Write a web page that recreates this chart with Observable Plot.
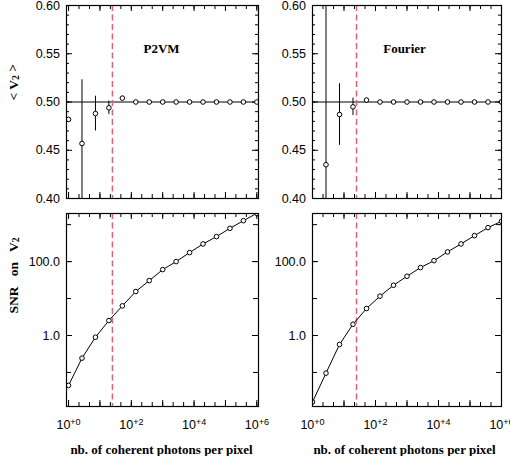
<!DOCTYPE html>
<html>
<head>
<meta charset="utf-8">
<script src="https://cdn.jsdelivr.net/npm/d3@7"></script>
<script src="https://cdn.jsdelivr.net/npm/@observablehq/plot@0.6"></script>
<style>
  body { margin: 0; background: #fff; }
  #fig { position: relative; width: 510px; height: 456px; overflow: hidden; background: #fff; }
  #fig svg { position: absolute; }
</style>
</head>
<body>
<div id="fig"></div>
<script>
// Number of coherent photons per pixel (shared abscissa of every panel)
const photons = [1, 2.68, 7.2, 19.3, 51.8, 139, 373, 1000, 2680, 7200, 19300, 51800, 139000, 373000, 1000000];

// Mean squared visibility and its error bar, P2VM estimator
const p2vmMean = [0.482, 0.457, 0.488, 0.494, 0.504, 0.500, 0.500, 0.500, 0.500, 0.500, 0.500, 0.500, 0.500, 0.500, 0.500];
const p2vmErr  = [0, 0.066, 0.018, 0.007, 0.002, 0, 0, 0, 0, 0, 0, 0, 0, 0, 0];

// Mean squared visibility and its error bar, Fourier estimator (first value off scale)
const fourierMean = [null, 0.435, 0.487, 0.495, 0.502, 0.500, 0.500, 0.500, 0.500, 0.500, 0.500, 0.500, 0.500, 0.500, 0.500];
const fourierErr  = [null, 0.18, 0.032, 0.009, 0.002, 0, 0, 0, 0, 0, 0, 0, 0, 0, 0];

// Signal-to-noise ratio on V2
const p2vmSNR    = [0.0446, 0.244, 0.90, 2.54, 6.34, 15.5, 30.6, 60.8, 100, 175, 300, 474, 794, 1280, 2020];
const fourierSNR = [0.0158, 0.096, 0.571, 2.02, 5.37, 11.6, 22.9, 40.1, 68.9, 106, 183, 300, 504, 830, 1228];

// Photon-count threshold marked by the dashed line
const threshold = 25;

// Reference value of V2
const v2True = 0.5;

// Axis ticks and labels
const xLabelTicks = [1, 100, 10000, 1000000];
const xMajorTicks = [1, 10, 100, 1000, 10000, 100000, 1000000];
const xMinorTicks = d3.range(0, 19).map(k => 10 ** (k / 3));
const v2LabelTicks = [0.40, 0.45, 0.50, 0.55, 0.60];
const v2MinorTicks = d3.range(40, 61).map(k => k / 100);
const snrLabelTicks = [1, 100];
const snrTicks = [0.1, 1, 10, 100, 1000];

const panelNames = ["P2VM", "Fourier"];
const yTitleTop = "< V2 >";
const yTitleBottom = "SNR\u00a0\u00a0\u00a0on\u00a0\u00a0\u00a0V2";
const xTitle = "nb. of coherent photons per pixel";

const SANS = "'Liberation Sans', Arial, Helvetica, sans-serif";
const SERIF = "'Liberation Serif', 'Times New Roman', serif";
const RED = "#e0646f";
const SVGNS = "http://www.w3.org/2000/svg";

const fig = document.getElementById("fig");

const columns = [
  {left: 0,   width: 262, marginLeft: 66, marginRight: 4, xDomain: [0.86, 1.13e6], dx: -1},
  {left: 262, width: 248, marginLeft: 50, marginRight: 9, xDomain: [1, 1e6], dx: -2.5}
];
const rows = [
  {top: 0,   height: 200, marginTop: 5,  marginBottom: 2},
  {top: 200, height: 256, marginTop: 13, marginBottom: 50}
];

// inward ticks on both opposite sides of the frame
function frameTicksY(values, len, innerW) {
  return [
    Plot.tickY(values, {y: d => d, insetRight: innerW - len, stroke: "black"}),
    Plot.tickY(values, {y: d => d, insetLeft: innerW - len, stroke: "black"})
  ];
}
function frameTicksX(values, len, innerH) {
  return [
    Plot.tickX(values, {x: d => d, insetTop: innerH - len, stroke: "black"}),
    Plot.tickX(values, {x: d => d, insetBottom: innerH - len, stroke: "black"})
  ];
}

function tspan(text, attrs = {}) {
  const t = document.createElementNS(SVGNS, "tspan");
  t.textContent = text;
  for (const [k, v] of Object.entries(attrs)) t.setAttribute(k, v);
  return t;
}

function panel(col, row, y, marks) {
  const innerW = col.width - col.marginLeft - col.marginRight;
  const innerH = row.height - row.marginTop - row.marginBottom;
  const svg = Plot.plot({
    width: col.width,
    height: row.height,
    marginLeft: col.marginLeft,
    marginRight: col.marginRight,
    marginTop: row.marginTop,
    marginBottom: row.marginBottom,
    x: {type: "log", domain: col.xDomain, axis: null},
    y: {...y, axis: null},
    style: {fontFamily: SANS, fontSize: "12.5px", color: "black", background: "transparent", overflow: "visible"},
    marks: [
      ...frameTicksX(xMinorTicks, 4, innerH),
      ...frameTicksX(xMajorTicks, 6, innerH),
      ...marks(innerW, innerH),
      Plot.frame({stroke: "black", strokeWidth: 1.2})
    ]
  });
  svg.style.left = col.left + "px";
  svg.style.top = row.top + "px";
  fig.appendChild(svg);
  // 10+n labels with a raised exponent
  svg.querySelectorAll(".xexp text").forEach(t => {
    const s = t.textContent;
    t.textContent = "";
    t.appendChild(tspan(s.slice(0, 2)));
    t.appendChild(tspan(s.slice(2), {dy: "-0.45em", "font-size": "0.72em"}));
  });
  // V2 written with a subscript 2
  svg.querySelectorAll(".vtitle text").forEach(t => {
    const s = t.textContent;
    const i = s.indexOf("V2");
    t.textContent = "";
    t.appendChild(tspan(s.slice(0, i + 1)));
    t.appendChild(tspan("2", {"font-size": "0.72em", dy: "0.12em"}));
    if (i + 2 < s.length) t.appendChild(tspan(s.slice(i + 2), {dy: "-0.12em"}));
  });
  return svg;
}

const estimators = [
  {name: panelNames[0], mean: p2vmMean, err: p2vmErr, snr: p2vmSNR},
  {name: panelNames[1], mean: fourierMean, err: fourierErr, snr: fourierSNR}
];

estimators.forEach((est, i) => {
  const col = columns[i];
  const top = photons.map((x, k) => ({x, v: est.mean[k], e: est.err[k]}));
  const bottom = photons.map((x, k) => ({x, s: est.snr[k]}));

  // upper panel: mean V2
  panel(col, rows[0], {domain: [0.40, 0.60]}, (innerW) => [
    ...frameTicksY(v2MinorTicks, 3, innerW),
    ...frameTicksY(v2LabelTicks, 6, innerW),
    Plot.text(v2LabelTicks, {y: d => d, frameAnchor: "left", dx: -6.5, textAnchor: "end", text: d => d.toFixed(2)}),
    Plot.ruleY([v2True], {stroke: "black", strokeWidth: 1}),
    Plot.ruleX([threshold], {stroke: RED, strokeWidth: 1.5, strokeDasharray: "6,3.5"}),
    Plot.ruleX(top.filter(d => d.v != null && d.e > 0), {x: "x", y1: d => d.v - d.e, y2: d => d.v + d.e, stroke: "black", strokeWidth: 1, clip: true}),
    Plot.dot(top.filter(d => d.v != null), {x: "x", y: "v", r: 2.3, stroke: "black", fill: "white", strokeWidth: 1, clip: true}),
    Plot.text([est.name], {text: d => d, frameAnchor: "top", dy: 38, dx: col.dx, fontFamily: SERIF, fontWeight: "bold", fontSize: 13}),
    ...(i === 0 ? [Plot.text([yTitleTop], {text: d => d, frameAnchor: "left", dx: -53, dy: -1.5, rotate: -90, fontFamily: SERIF, fontWeight: "bold", fontSize: 13.5, className: "vtitle"})] : [])
  ]);

  // lower panel: SNR on V2
  panel(col, rows[1], {type: "log", domain: [0.012, 2000]}, (innerW) => [
    ...frameTicksY(snrTicks, 5, innerW),
    ...frameTicksY(snrLabelTicks, 6, innerW),
    Plot.text(snrLabelTicks, {y: d => d, frameAnchor: "left", dx: -6.5, textAnchor: "end", text: d => d.toFixed(1)}),
    Plot.ruleX([threshold], {stroke: RED, strokeWidth: 1.5, strokeDasharray: "6,3.5"}),
    Plot.line(bottom, {x: "x", y: "s", stroke: "black", strokeWidth: 1, clip: true}),
    Plot.dot(bottom, {x: "x", y: "s", r: 2.3, stroke: "black", fill: "white", strokeWidth: 1, clip: true}),
    Plot.text(xLabelTicks, {x: d => d, frameAnchor: "bottom", dy: 14, lineAnchor: "top", text: d => "10+" + Math.round(Math.log10(d)), className: "xexp"}),
    Plot.text([xTitle], {text: d => d, frameAnchor: "bottom", dy: 47.5, dx: col.dx, fontFamily: SERIF, fontWeight: "bold", fontSize: 13}),
    ...(i === 0 ? [Plot.text([yTitleBottom], {text: d => d, frameAnchor: "left", dx: -53, dy: 3.5, rotate: -90, fontFamily: SERIF, fontWeight: "bold", fontSize: 13.5, className: "vtitle"})] : [])
  ]);
});
</script>
</body>
</html>
